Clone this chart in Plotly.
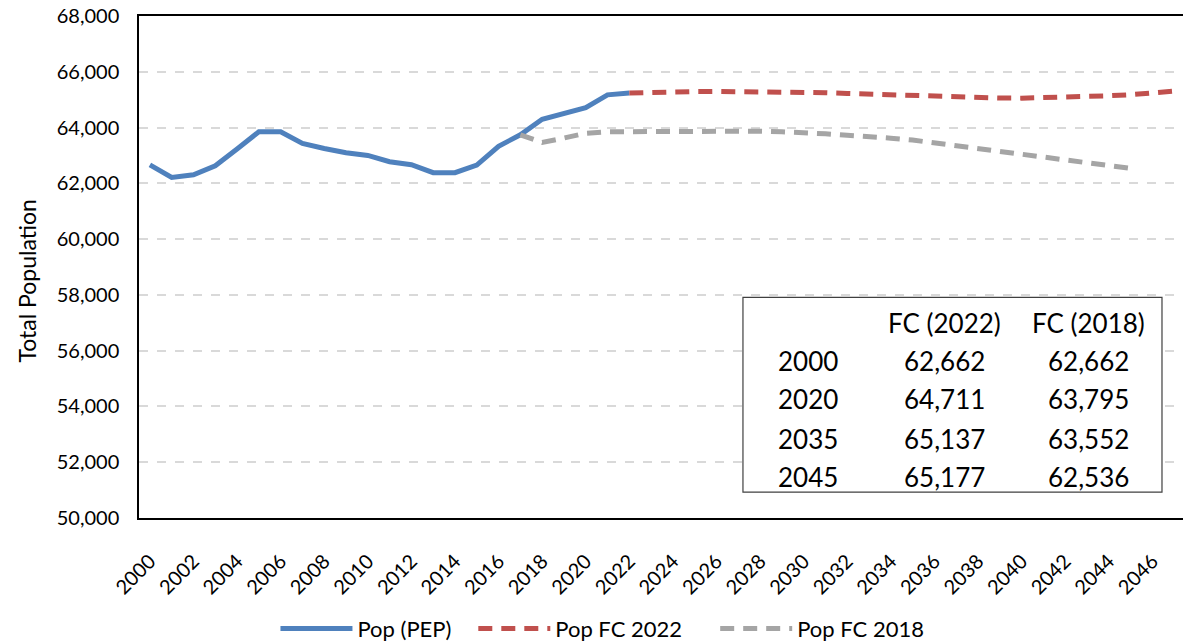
import plotly.graph_objects as go

# ---- data ----
years_pep = list(range(2000, 2023))
pop_pep = [62662, 62213, 62309, 62631, 63229, 63848, 63848, 63430, 63251, 63097,
           63000, 62775, 62667, 62381, 62381, 62656, 63330, 63741, 64296, 64518,
           64711, 65172, 65235]

years_fc2022 = list(range(2022, 2048))
pop_fc2022 = [65235, 65262, 65282, 65291, 65295, 65293, 65288, 65280, 65266, 65250,
              65225, 65195, 65165, 65137, 65108, 65094, 65076, 65058, 65055, 65065,
              65080, 65108, 65140, 65177, 65245, 65305]

years_fc2018 = list(range(2017, 2046))
pop_fc2018 = [63741, 63465, 63623, 63795, 63848, 63855, 63865, 63884, 63895, 63895,
              63884, 63872, 63848, 63824, 63777, 63720, 63680, 63620, 63552, 63455,
              63350, 63250, 63150, 63045, 62945, 62840, 62735, 62635, 62536]

x_ticks = list(range(2000, 2047, 2))
x_ticklabels = [str(y) for y in x_ticks]

y_title = "Total Population"

table_header = ["", "FC (2022)", "FC (2018)"]
table_years = ["2000", "2020", "2035", "2045"]
table_fc2022 = [62662, 64711, 65137, 65177]
table_fc2018 = [62662, 63795, 63552, 62536]

FONT = "Lato, Carlito, Calibri, sans-serif"
PAD = "\u00a0"

fig = go.Figure()
fig.add_trace(go.Scatter(x=years_pep, y=pop_pep, mode="lines", name="Pop (PEP)" + PAD * 3,
                         line=dict(color="#4F81BD", width=5)))
fig.add_trace(go.Scatter(x=years_fc2022, y=pop_fc2022, mode="lines", name="Pop FC 2022" + PAD * 5,
                         line=dict(color="#C0504D", width=5, dash="14px,9px")))
fig.add_trace(go.Scatter(x=years_fc2018, y=pop_fc2018, mode="lines", name="Pop FC 2018",
                         line=dict(color="#A5A5A5", width=5, dash="14px,9px")))

# table box
x0, x1 = 0.5774, 0.978
y0, y1 = 0.0517, 0.4394
fig.add_shape(type="rect", xref="paper", yref="paper", x0=x0, x1=x1, y0=y0, y1=y1,
              line=dict(color="#404040", width=1.2), fillcolor="white", layer="above")

col_x = [0.6396, 0.7696, 0.9082]
row_y = [0.3877, 0.3121, 0.2366, 0.1571, 0.0815]
tfont = dict(family=FONT, size=26, color="#000000")
for c, h in enumerate(table_header):
    if h:
        fig.add_annotation(x=col_x[c], y=row_y[0], xref="paper", yref="paper", text=h,
                           showarrow=False, font=tfont, xanchor="center", yanchor="middle")
for r in range(len(table_years)):
    vals = [table_years[r], f"{table_fc2022[r]:,}", f"{table_fc2018[r]:,}"]
    for c, v in enumerate(vals):
        fig.add_annotation(x=col_x[c], y=row_y[r + 1], xref="paper", yref="paper", text=v,
                           showarrow=False, font=tfont, xanchor="center", yanchor="middle")

# y-axis title
fig.add_annotation(x=-0.1071, y=0.473, xref="paper", yref="paper", text=y_title,
                   textangle=-90, showarrow=False, xanchor="center", yanchor="middle",
                   font=dict(family=FONT, size=23, color="#000000"))

fig.update_layout(
    width=1183, height=634,
    margin=dict(l=131, r=6, t=8, b=124, autoexpand=False),
    paper_bgcolor="white", plot_bgcolor="white",
    font=dict(family=FONT, size=19, color="#000000"),
    showlegend=True,
    legend=dict(orientation="h", xref="container", yref="container",
                x=0.5025, xanchor="center", y=0.021, yanchor="middle",
                font=dict(family=FONT, size=22, color="#000000"),
                itemwidth=72, tracegroupgap=0, bgcolor="rgba(0,0,0,0)"),
)
fig.update_xaxes(range=[1999.5, 2047.5], tickmode="array", tickvals=x_ticks,
                 ticktext=x_ticklabels, tickangle=-45, showgrid=False, zeroline=False,
                 showline=True, linecolor="#000000", linewidth=1.5, mirror=True,
                 ticks="", ticklabelstandoff=22, tickfont=dict(size=20), automargin=False,
                 ticklabeloverflow="allow")
fig.update_yaxes(range=[50000, 68000], dtick=2000, tickformat=",", showgrid=True,
                 gridcolor="#D9D9D9", gridwidth=1.5, griddash="dash", zeroline=False,
                 showline=True, linecolor="#000000", linewidth=1.5, mirror=True,
                 ticks="", ticklabelstandoff=14, tickfont=dict(size=20), automargin=False,
                 ticklabeloverflow="allow")

fig.write_html("out.html")
